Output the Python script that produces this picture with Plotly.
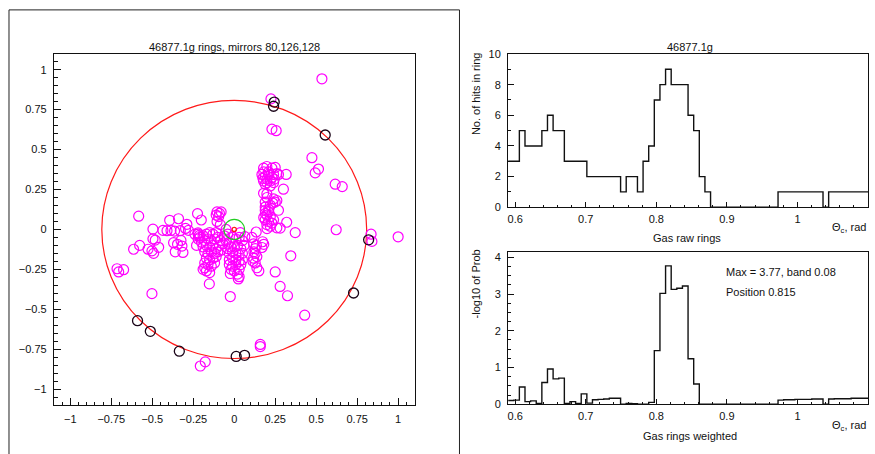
import numpy as np
import plotly.graph_objects as go

W, H = 875, 454

# ---------------- ring hit positions (normalised detector coords) ----------------
hit_x = [
    0.535, 0.224, 0.23, 0.256, 0.474, 0.514, 0.494, 0.616, 0.659, 0.317, 0.30, 0.32,
    0.28, 0.372, 0.622, 1.0, 0.835, 0.84, 0.345, 0.25, 0.28, 0.325, 0.43, 0.159,
    0.159, -0.207, -0.177, -0.024, -0.152, -0.502, -0.715, -0.705, -0.675, -0.583,
    # column 0.17..0.27, upper part
    0.179, 0.199, 0.23, 0.25, 0.169, 0.189, 0.209, 0.24, 0.26, 0.179, 0.199, 0.22,
    0.24, 0.189, 0.22, 0.27, 0.175, 0.21, 0.245, 0.20, 0.23, 0.18,
    # column middle part
    0.179, 0.199, 0.189, 0.24, 0.26, 0.25, 0.27, 0.189, 0.22, 0.20, 0.235, 0.21,
    # column lower part
    0.189, 0.209, 0.199, 0.22, 0.189, 0.209, 0.23, 0.199, 0.22, 0.26, 0.18, 0.24,
    0.20, 0.19,
    # right of the core
    0.134, 0.108, 0.173, 0.18, 0.118, 0.128, 0.169, 0.128, 0.118, 0.138, 0.128, 0.138,
    0.15, 0.12, 0.135, 0.115,
    # core, left lobe
    -0.22, -0.21, -0.19, -0.17, -0.15, -0.13, -0.11, -0.20, -0.18, -0.16, -0.14, -0.12,
    -0.10, -0.085, -0.19, -0.17, -0.15, -0.13, -0.11, -0.09, -0.07, -0.18, -0.16, -0.14,
    -0.12, -0.10, -0.08, -0.17, -0.15, -0.13, -0.11, -0.18, -0.16, -0.14, -0.12, -0.19,
    -0.17, -0.18, -0.15, -0.23, -0.24, -0.22,
    # core, right lobe
    -0.06, -0.04, -0.05, -0.03, -0.01, 0.01, 0.03, 0.05, 0.06, 0.04, 0.02, 0.0,
    -0.02, -0.04, -0.03, -0.01, 0.01, 0.03, 0.05, 0.05, 0.03, 0.01, -0.01, -0.03,
    -0.03, -0.01, 0.01, 0.04, 0.03, 0.0, -0.02, -0.024, 0.02, 0.03, 0.025,
    # core, upper spur
    -0.105, -0.095, -0.105, -0.085, -0.09, -0.11, -0.08, -0.05, 0.037, 0.065,
    # left wing
    -0.435, -0.41, -0.386, -0.364, -0.329, -0.297, -0.279, -0.394, -0.34, -0.289,
    -0.224, -0.201, -0.496, -0.614, -0.577, -0.526, -0.496, -0.482, -0.492, -0.461,
    -0.502, -0.37, -0.346, -0.325, -0.319, -0.36, -0.313, -0.221, -0.213,
]
hit_y = [
    0.943, 0.817, 0.628, 0.618, 0.449, 0.378, 0.354, 0.283, 0.268, 0.344, 0.252, 0.045,
    0.008, -0.020, -0.002, -0.046, -0.030, -0.075, -0.165, -0.266, -0.357, -0.415, -0.537, -0.720,
    -0.733, -0.855, -0.829, -0.420, -0.341, -0.402, -0.246, -0.266, -0.252, 0.083,
    0.384, 0.394, 0.384, 0.388, 0.344, 0.333, 0.344, 0.344, 0.350, 0.303, 0.293, 0.303,
    0.293, 0.283, 0.272, 0.344, 0.320, 0.360, 0.315, 0.315, 0.325, 0.360,
    0.226, 0.222, 0.171, 0.191, 0.181, 0.171, 0.120, 0.140, 0.151, 0.200, 0.165, 0.125,
    0.120, 0.110, 0.090, 0.080, 0.060, 0.050, 0.040, 0.030, 0.020, 0.010, 0.075, 0.060,
    0.005, 0.100,
    -0.016, -0.050, -0.077, -0.093, -0.090, -0.120, -0.113, -0.150, -0.180, -0.170, -0.210, -0.240,
    -0.260, -0.140, -0.100, -0.200,
    -0.03, -0.05, -0.04, -0.03, -0.02, -0.03, -0.02, -0.08, -0.07, -0.06, -0.07, -0.06,
    -0.05, -0.07, -0.11, -0.10, -0.11, -0.10, -0.12, -0.10, -0.09, -0.14, -0.15, -0.14,
    -0.15, -0.14, -0.13, -0.18, -0.19, -0.18, -0.17, -0.21, -0.22, -0.23, -0.21, -0.25,
    -0.26, -0.24, -0.27, -0.10, -0.03, -0.06,
    -0.04, -0.03, -0.07, -0.08, -0.05, -0.06, -0.05, -0.07, -0.10, -0.12, -0.10, -0.11,
    -0.11, -0.12, -0.15, -0.14, -0.15, -0.16, -0.15, -0.19, -0.20, -0.19, -0.18, -0.19,
    -0.22, -0.23, -0.22, -0.22, -0.25, -0.26, -0.25, -0.276, -0.28, -0.296, -0.31,
    0.110, 0.080, 0.050, 0.030, 0.100, 0.090, 0.110, 0.000, -0.020, -0.045,
    -0.006, -0.008, -0.006, -0.010, -0.008, 0.006, -0.006, 0.057, 0.067, 0.032,
    0.099, 0.059, 0.002, -0.124, -0.100, -0.124, -0.059, -0.067, -0.150, -0.112,
    -0.134, -0.083, -0.093, -0.069, -0.104, -0.140, -0.144, -0.022, -0.038,
]

# hits assigned to the fitted ring
ring_x = [0.244, 0.240, 0.555, 0.820, 0.728, -0.590, -0.512, -0.335, 0.012, 0.063]
ring_y = [0.797, 0.771, 0.591, -0.065, -0.398, -0.571, -0.638, -0.762, -0.795, -0.788]

ring_radius = 0.808      # fitted ring
track_radius = 0.063     # track projection
centre_radius = 0.013    # ring centre marker

# ---------------- theta_c histograms ----------------
theta_lo, theta_hi, n_bins = 0.59, 1.10, 64

raw_counts = [
    3, 3, 5, 4, 4, 4, 5, 6, 5, 5, 3, 3, 3, 3, 2, 2,
    2, 2, 2, 2, 1, 2, 2, 1, 3, 4, 7, 8, 9, 8, 8, 8,
    6, 5, 2, 1, 0, 0, 0, 0, 0, 0, 0, 0, 0, 0, 0, 0,
    1, 1, 1, 1, 1, 1, 1, 1, 0, 1, 1, 1, 1, 1, 1, 1,
]
weighted = [
    0.10, 0.11, 0.47, 0.07, 0.09, 0.02, 0.59, 0.96, 0.69, 0.71, 0.02, 0.07, 0.02, 0.28, 0.03, 0.12,
    0.13, 0.14, 0.16, 0.16, 0.00, 0.02, 0.01, 0.00, 0.00, 0.05, 1.46, 3.02, 3.77, 3.13, 3.16, 3.22,
    1.24, 0.55, 0.00, 0.00, 0.00, 0.00, 0.00, 0.00, 0.00, 0.00, 0.00, 0.00, 0.00, 0.00, 0.00, 0.00,
    0.11, 0.12, 0.12, 0.13, 0.13, 0.13, 0.14, 0.14, 0.00, 0.14, 0.15, 0.15, 0.15, 0.16, 0.16, 0.16,
]
peak_max, peak_band, peak_pos = 3.77, 0.08, 0.815

edges = np.linspace(theta_lo, theta_hi, n_bins + 1)


def px(v):
    return v / W


def py(v):
    return 1 - v / H


FONT = "Liberation Sans"
fig = go.Figure()

# ---------------- left panel: hit map ----------------
fig.add_shape(type="circle", xref="x", yref="y",
              x0=-ring_radius, x1=ring_radius, y0=-ring_radius, y1=ring_radius,
              line=dict(color="#ff1a1a", width=1.2), layer="below")

fig.add_trace(go.Scatter(
    x=hit_x, y=hit_y, mode="markers", xaxis="x", yaxis="y",
    marker=dict(symbol="circle-open", size=10, color="#ff00ff", line=dict(width=1.2, color="#ff00ff")),
    hoverinfo="skip", showlegend=False))
fig.add_trace(go.Scatter(
    x=ring_x, y=ring_y, mode="markers", xaxis="x", yaxis="y",
    marker=dict(symbol="circle-open", size=10, color="#1a0418", line=dict(width=1.3, color="#1a0418")),
    hoverinfo="skip", showlegend=False))

for r, col, w in [(track_radius, "#22cc22", 1.1), (centre_radius, "#ff1a1a", 1.3)]:
    fig.add_shape(type="circle", xref="x", yref="y", x0=-r, x1=r, y0=-r, y1=r,
                  line=dict(color=col, width=w), layer="above")

# ---------------- right panels: histograms ----------------
fig.add_trace(go.Scatter(
    x=edges, y=raw_counts + [raw_counts[-1]], mode="lines", line_shape="hv",
    xaxis="x2", yaxis="y2", line=dict(color="#111", width=1.4),
    hoverinfo="skip", showlegend=False))
fig.add_trace(go.Scatter(
    x=edges, y=weighted + [weighted[-1]], mode="lines", line_shape="hv",
    xaxis="x3", yaxis="y3", line=dict(color="#111", width=1.4),
    hoverinfo="skip", showlegend=False))

tickfont = dict(family=FONT, size=11, color="#111")
frame = dict(showline=True, mirror=True, linecolor="#111", linewidth=1.2,
             showgrid=False, zeroline=False, ticks="inside", tickcolor="#111",
             tickfont=tickfont, fixedrange=True)

fig.update_layout(
    width=W, height=H,
    margin=dict(l=0, r=0, t=0, b=0),
    paper_bgcolor="white", plot_bgcolor="white",
    xaxis=dict(domain=[px(53), px(414)], range=[-1.1, 1.1], tick0=0, dtick=0.25,
               ticklen=7, minor=dict(ticks="inside", dtick=0.05, ticklen=3.5, tickcolor="#111"),
               anchor="y", ticklabelstandoff=4, **frame),
    yaxis=dict(domain=[py(410), py(49)], range=[-1.1, 1.1], tick0=0, dtick=0.25,
               ticklen=7, minor=dict(ticks="inside", dtick=0.05, ticklen=3.5, tickcolor="#111"),
               anchor="x", ticklabelstandoff=4, **frame),
    xaxis2=dict(domain=[px(507.7), px(868)], range=[theta_lo, theta_hi], tick0=0.6, dtick=0.1,
                ticklen=5, minor=dict(ticks="inside", dtick=0.02, ticklen=2.5, tickcolor="#111"),
                anchor="y2", ticklabelstandoff=1, **frame),
    yaxis2=dict(domain=[py(206.7), py(49.3)], range=[0, 10], dtick=2,
                ticklen=6, minor=dict(ticks="inside", dtick=1, ticklen=3, tickcolor="#111"),
                anchor="x2", ticklabelstandoff=4, **frame),
    xaxis3=dict(domain=[px(507.7), px(868)], range=[theta_lo, theta_hi], tick0=0.6, dtick=0.1,
                ticklen=5, minor=dict(ticks="inside", dtick=0.02, ticklen=2.5, tickcolor="#111"),
                anchor="y3", ticklabelstandoff=2, **frame),
    yaxis3=dict(domain=[py(409), py(252.7)], range=[0, 1.1 * peak_max], dtick=1,
                ticklen=6, minor=dict(ticks="inside", dtick=0.25, ticklen=3, tickcolor="#111"),
                anchor="x3", ticklabelstandoff=4, **frame),
)

# outer frame of the hit-map pad
fig.add_shape(type="rect", xref="paper", yref="paper",
              x0=px(8), x1=px(459), y0=py(470), y1=py(4),
              line=dict(color="#222", width=1), layer="below")


def label(text, x, y, xanchor="center", angle=0, size=11):
    fig.add_annotation(text=text, xref="paper", yref="paper", x=px(x), y=py(y),
                       xanchor=xanchor, yanchor="middle", showarrow=False, textangle=angle,
                       font=dict(family=FONT, size=size, color="#111"))


label("46877.1g rings, mirrors 80,126,128", 233.3, 42)
label("46877.1g", 690, 42)
label("No. of hits in ring", 475, 90, angle=-90)
label("-log10 of Prob", 475, 285.5, angle=-90)
label("Gas raw rings", 686.7, 238)
label("Gas rings weighted", 690, 441.7)
label("Θ<sub>c</sub>, rad", 868, 227.7, xanchor="right")
label("Θ<sub>c</sub>, rad", 868, 431.7, xanchor="right")
label(f"Max = {peak_max}, band {peak_band}", 724.3, 273.3, xanchor="left")
label(f"Position {peak_pos}", 724.3, 293.3, xanchor="left")

fig.write_html("out.html", config={"displayModeBar": False})
